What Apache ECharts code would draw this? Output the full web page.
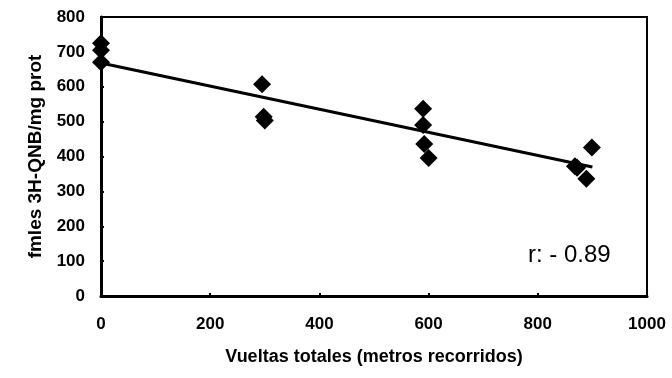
<!DOCTYPE html>
<html>
<head>
<meta charset="utf-8">
<script src="https://cdn.jsdelivr.net/npm/echarts@6/dist/echarts.min.js"></script>
<style>
  html, body { margin: 0; padding: 0; background: #fff; }
  #chart { width: 672px; height: 378px; }
</style>
</head>
<body>
<div id="chart"></div>
<script>
// distance run (m) vs binding (fmoles 3H-QNB / mg prot)
const metros = [0, 0, 0, 295, 298, 300, 590, 590, 592, 600, 868, 872, 889, 899];
const fmoles = [725, 705, 670, 607, 514, 503, 537, 490, 436, 396, 372, 368, 336, 426];
// trend line ends as drawn in the figure
const trendX = [0, 900];
const trendY = [668, 370];
const xTicks = [0, 200, 400, 600, 800, 1000];
const yTicks = [0, 100, 200, 300, 400, 500, 600, 700, 800];
const rLabel = 'r: - 0.89';

const font = 'Liberation Sans, Arial, sans-serif';
const chart = echarts.init(document.getElementById('chart'), null, { renderer: 'canvas' });
chart.setOption({
  animation: false,
  backgroundColor: '#fff',
  grid: {
    left: 101, right: 25, top: 17, bottom: 82,
    show: true, borderColor: '#000', borderWidth: 2, backgroundColor: 'transparent'
  },
  xAxis: {
    type: 'value', min: 0, max: 1000, interval: 200,
    name: 'Vueltas totales (metros recorridos)',
    nameLocation: 'middle', nameGap: 52,
    nameTextStyle: { fontFamily: font, fontWeight: 'bold', fontSize: 18, color: '#000' },
    axisLine: { show: true, lineStyle: { color: '#000', width: 3 } },
    axisTick: { show: true, inside: true, length: 3, lineStyle: { color: '#000', width: 2 } },
    axisLabel: { margin: 20, fontFamily: font, fontWeight: 'bold', fontSize: 17, color: '#000',
      formatter: v => xTicks.includes(v) ? String(v) : '' },
    splitLine: { show: false }
  },
  yAxis: {
    type: 'value', min: 0, max: 800, interval: 100,
    name: 'fmles 3H-QNB/mg prot',
    nameLocation: 'middle', nameGap: 52, nameRotate: 90,
    nameTextStyle: { fontFamily: font, fontWeight: 'bold', fontSize: 19, color: '#000' },
    axisLine: { show: true, lineStyle: { color: '#000', width: 3 } },
    axisTick: { show: true, inside: true, length: 3, lineStyle: { color: '#000', width: 2 } },
    axisLabel: { margin: 16, fontFamily: font, fontWeight: 'bold', fontSize: 17, color: '#000',
      formatter: v => yTicks.includes(v) ? String(v) : '' },
    splitLine: { show: false }
  },
  graphic: [{
    type: 'text', left: 528, top: 243,
    style: { text: rLabel, font: '24px ' + font, fill: '#000' }
  }],
  series: [
    {
      type: 'line',
      data: trendX.map((x, i) => [x, trendY[i]]),
      symbol: 'none',
      lineStyle: { color: '#000', width: 3 },
      z: 3
    },
    {
      type: 'scatter',
      data: metros.map((x, i) => [x, fmoles[i]]),
      symbol: 'diamond',
      symbolSize: 18,
      itemStyle: { color: '#000', opacity: 1 },
      z: 4
    }
  ]
});
</script>
</body>
</html>
